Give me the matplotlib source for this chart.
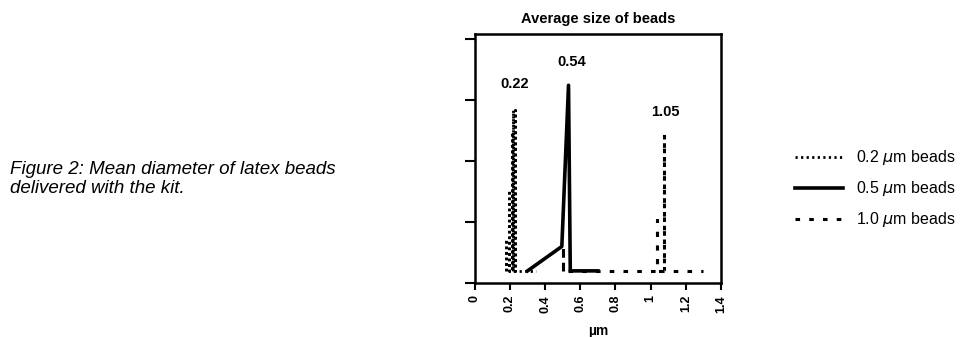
import matplotlib
matplotlib.use("Agg")
import matplotlib.pyplot as plt

plt.rcParams['font.family'] = ['Liberation Sans', 'DejaVu Sans']

# 0.2 um beads (dotted, several close columns)
x02 = [0.18, 0.18, 0.18, 0.195, 0.195, 0.195, 0.21, 0.21, 0.21, 0.22, 0.22, 0.22, 0.23, 0.23, 0.23, 0.28, 0.35]
y02 = [5, 18, 5, 5, 38, 5, 5, 62, 5, 5, 71, 5, 5, 71, 5, 5, 5]

# 0.5 um beads (solid)
x05 = [0.30, 0.495, 0.533, 0.543, 0.60, 0.70]
y05 = [5, 15, 81, 5, 5, 5]

# 1.0 um beads (dashed)
x10 = [0.50, 0.50, 0.50, 0.55, 0.70, 0.85, 1.00, 1.035, 1.035, 1.035, 1.075, 1.075, 1.075, 1.15, 1.30]
y10 = [5, 15, 5, 5, 5, 5, 5, 5, 26, 5, 5, 61, 5, 5, 5]

peak_x = [0.226, 0.552, 1.085]
peak_y = [81.5, 90.5, 70]
peak_lbl = ["0.22", "0.54", "1.05"]

xticks = [0, 0.2, 0.4, 0.6, 0.8, 1, 1.2, 1.4]
xtick_lbl = ["0", "0.2", "0.4", "0.6", "0.8", "1", "1.2", "1.4"]

fig = plt.figure(figsize=(9.69, 3.37), dpi=100)
ax = fig.add_axes([0.490, 0.160, 0.254, 0.739])

l1, = ax.plot(x02, y02, color='black', linestyle=(0, (0.8, 1.2)), linewidth=2.0)
l2, = ax.plot(x05, y05, color='black', linestyle='-', linewidth=2.6)
l3, = ax.plot(x10, y10, color='black', linestyle=(0, (1.5, 3)), linewidth=2.2)

for x, y, t in zip(peak_x, peak_y, peak_lbl):
    ax.text(x, y, t, ha='center', va='center', fontsize=10.5, fontweight='bold')

ax.set_xlim(0, 1.4)
ax.set_ylim(0, 102)
ax.set_xticks(xticks)
ax.set_xticklabels(xtick_lbl, rotation=90, fontsize=9, fontweight='bold')
ax.set_yticks([0, 25, 50, 75, 100])
ax.set_yticklabels([])
ax.tick_params(axis='both', direction='out', width=1.5, length=5)
ax.tick_params(axis='y', length=7)
for s in ax.spines.values():
    s.set_linewidth(1.8)

ax.set_title("Average size of beads", fontsize=10.5, fontweight='bold', pad=8)
ax.set_xlabel("µm", fontsize=10, fontweight='bold', labelpad=8)

fig.legend([l1, l2, l3],
           [r"0.2 $\mu$m beads", r"0.5 $\mu$m beads", r"1.0 $\mu$m beads"],
           loc='center left', bbox_to_anchor=(0.806, 0.44), frameon=False,
           fontsize=11.5, handlelength=3.0, handletextpad=0.8, labelspacing=0.75)

fig.text(0.010, 0.47, "Figure 2: Mean diameter of latex beads\ndelivered with the kit.",
         fontsize=13.5, style='italic', va='center', ha='left', linespacing=1.15)

fig.savefig("out.png", dpi=100)
